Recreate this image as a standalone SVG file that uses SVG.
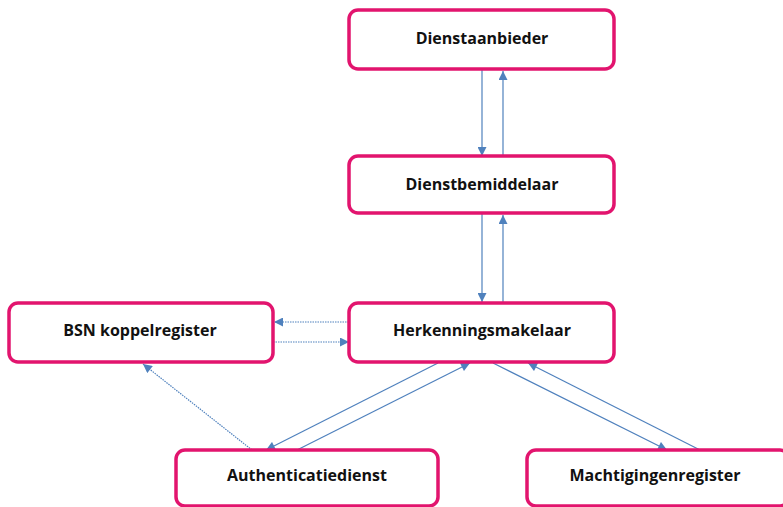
<svg xmlns="http://www.w3.org/2000/svg" width="783" height="507" viewBox="0 0 783 507">
<style>
.box{fill:#fff;stroke:#E2146E;stroke-width:3.5}
.lbl{font-family:"Open Sans","Liberation Sans",sans-serif;font-weight:bold;font-size:16px;fill:#111;text-anchor:middle}
.c{stroke:#4F81BD;stroke-width:1.2;fill:none}
.d{stroke:#4F81BD;stroke-width:1.2;fill:none;stroke-dasharray:1.5 1}
</style>
<defs>
<marker id="ah" viewBox="0 0 10 10" refX="10" refY="5" markerWidth="11" markerHeight="9" markerUnits="userSpaceOnUse" orient="auto">
<path d="M0,0 L10,5 L0,10 z" fill="#4F81BD"/>
</marker>
</defs>
<g id="connectors">
<line class="c" x1="482" y1="70" x2="482" y2="156" marker-end="url(#ah)"/>
<line class="c" x1="503" y1="156" x2="503" y2="71" marker-end="url(#ah)"/>
<line class="c" x1="482" y1="214" x2="482" y2="302" marker-end="url(#ah)"/>
<line class="c" x1="503" y1="302" x2="503" y2="215" marker-end="url(#ah)"/>
<line class="d" x1="349" y1="322" x2="274" y2="322" marker-end="url(#ah)"/>
<line class="d" x1="273" y1="342" x2="349" y2="342" marker-end="url(#ah)"/>
<line class="d" x1="252" y1="450" x2="143" y2="364" marker-end="url(#ah)"/>
<line class="c" x1="438" y1="363" x2="266" y2="450" marker-end="url(#ah)"/>
<line class="c" x1="297" y1="450" x2="470" y2="363" marker-end="url(#ah)"/>
<line class="c" x1="493" y1="363" x2="667" y2="450" marker-end="url(#ah)"/>
<line class="c" x1="700" y1="450" x2="528" y2="363" marker-end="url(#ah)"/>
</g>
<g id="dienstaanbieder">
<rect class="box" x="349" y="10" width="265" height="59" rx="9"/>
<text class="lbl" x="482" y="44">Dienstaanbieder</text>
</g>
<g id="dienstbemiddelaar">
<rect class="box" x="349" y="156" width="265" height="57" rx="9"/>
<text class="lbl" x="482" y="190">Dienstbemiddelaar</text>
</g>
<g id="herkenningsmakelaar">
<rect class="box" x="349" y="303" width="265" height="59" rx="9"/>
<text class="lbl" x="482" y="336">Herkenningsmakelaar</text>
</g>
<g id="bsn-koppelregister">
<rect class="box" x="9" y="303" width="264" height="59" rx="9"/>
<text class="lbl" x="140" y="336">BSN koppelregister</text>
</g>
<g id="authenticatiedienst">
<rect class="box" x="176" y="450" width="262" height="56" rx="9"/>
<text class="lbl" x="307" y="481">Authenticatiedienst</text>
</g>
<g id="machtigingenregister">
<rect class="box" x="527" y="450" width="262" height="56" rx="9"/>
<text class="lbl" x="655" y="481">Machtigingenregister</text>
</g>
</svg>
